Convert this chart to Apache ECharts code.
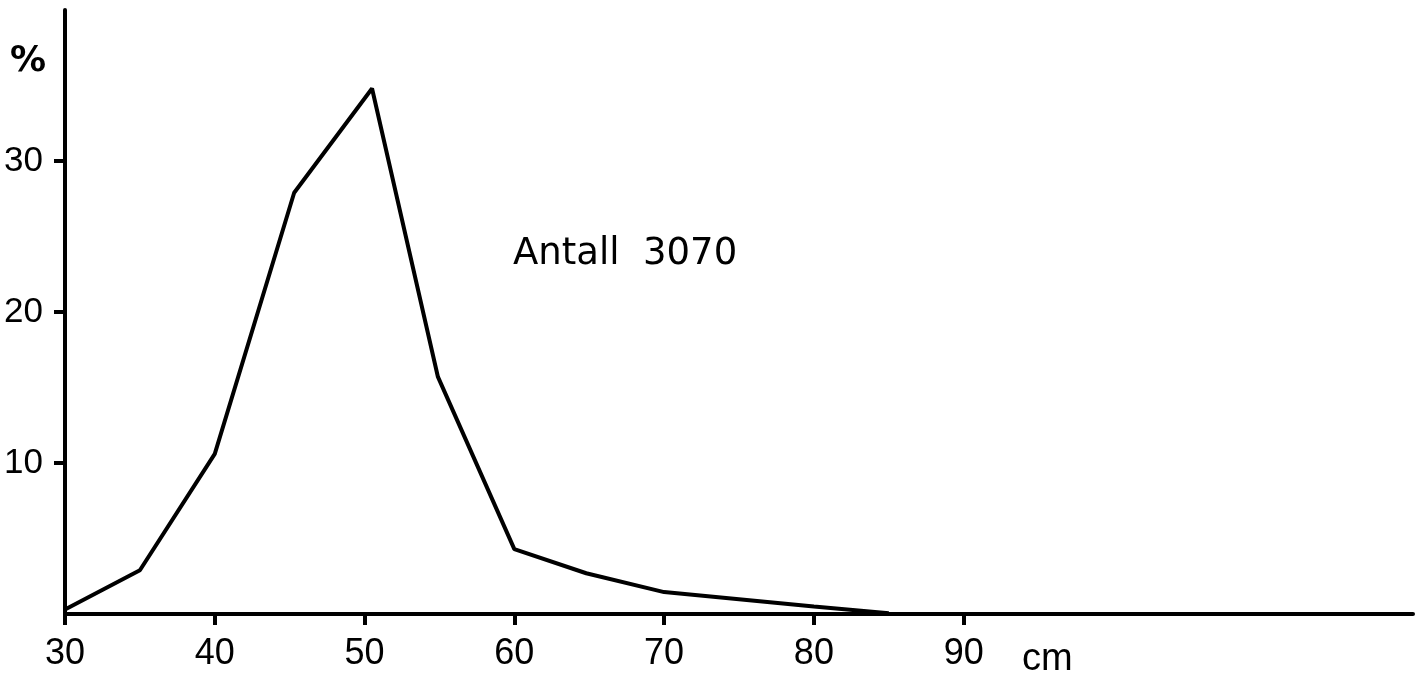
<!DOCTYPE html>
<html>
<head>
<meta charset="utf-8">
<script src="https://cdn.jsdelivr.net/npm/echarts@6/dist/echarts.min.js"></script>
<style>html,body{margin:0;padding:0;background:#fff}#c{width:1424px;height:681px}</style>
</head>
<body>
<div id="c"></div>
<script>
// Length (cm) and share (%)
const lengths = [30, 35, 40, 45.3, 50.5, 54.9, 60, 64.8, 70, 80, 85];
const percents = [0.3, 2.9, 10.6, 27.9, 34.8, 15.7, 4.3, 2.7, 1.45, 0.5, 0.05];
const xTickLabels = [30, 40, 50, 60, 70, 80, 90];
const yTickLabels = [10, 20, 30];
const yAxisTitle = '%';
const xAxisTitle = 'cm';
const note = 'Antall  3070';

const chart = echarts.init(document.getElementById('c'));
const narrow = '"Liberation Sans Narrow", "Liberation Sans", sans-serif';
chart.setOption({
  animation: false,
  backgroundColor: '#fff',
  grid: { left: 65, right: 11, top: 10, bottom: 67 },
  xAxis: {
    type: 'value', min: 30, max: 120, interval: 10,
    axisLine: { show: true, lineStyle: { color: '#000', width: 4 } },
    axisTick: { show: true, length: 11, lineStyle: { color: '#000', width: 4 }, customValues: xTickLabels },
    axisLabel: { color: '#000', fontSize: 36, fontFamily: narrow, margin: 22, customValues: xTickLabels },
    splitLine: { show: false }
  },
  yAxis: {
    type: 'value', min: 0, max: 40, interval: 10,
    axisLine: { show: true, lineStyle: { color: '#000', width: 4 } },
    axisTick: { show: true, length: 11, lineStyle: { color: '#000', width: 4 }, customValues: yTickLabels },
    axisLabel: { color: '#000', fontSize: 35, fontFamily: narrow, margin: 22, customValues: yTickLabels },
    splitLine: { show: false }
  },
  series: [{
    type: 'line',
    data: lengths.map((x, i) => [x, percents[i]]),
    symbol: 'none',
    lineStyle: { color: '#000', width: 4 },
    z: 3
  }],
  graphic: [
    { type: 'text', left: 10, top: 44, style: { text: yAxisTitle, fontSize: 36, fontWeight: 'bold', fontFamily: '"DejaVu Sans", sans-serif', fill: '#000' } },
    { type: 'text', left: 1022, top: 641, style: { text: xAxisTitle, fontSize: 38, fontFamily: narrow, fill: '#000' } },
    { type: 'text', left: 513, top: 236, style: { text: note, fontSize: 37, fontFamily: '"DejaVu Sans", sans-serif', fill: '#000' } }
  ]
});
</script>
</body>
</html>
